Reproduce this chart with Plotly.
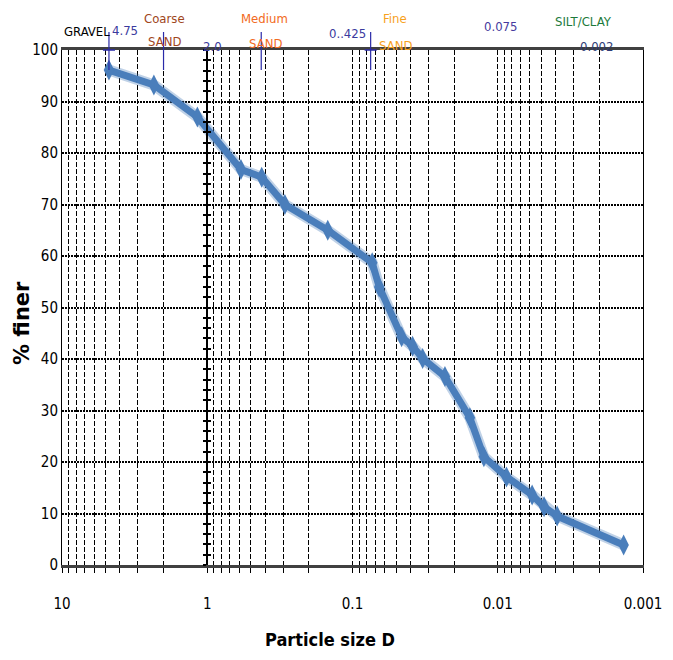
import plotly.graph_objects as go

# ---------------- data ----------------
SIZES = [4.75, 2.33, 1.17, 0.586, 0.422, 0.292, 0.148, 0.0732, 0.0655, 0.0459,
         0.0386, 0.0329, 0.0231, 0.01556, 0.01246, 0.0087, 0.0058, 0.0048, 0.0039, 0.00136]
FINER = [96.1, 93.2, 87.0, 76.8, 75.3, 70.0, 65.0, 58.7, 54.0, 44.3,
         42.5, 40.1, 36.6, 28.6, 21.0, 17.1, 13.6, 11.3, 9.5, 3.9]

DECADES = [10, 1, 0.1, 0.01, 0.001]
DECADE_LABELS = ["10", "1", "0.1", "0.01", "0.001"]
Y_TICKS = [0, 10, 20, 30, 40, 50, 60, 70, 80, 90, 100]

BOUNDARY_SIZES = [4.75, 2.0, 0.425, 0.075]
CROSSBAR_SIZES = [4.75, 0.075]

# ---------------- styling ----------------
OFF = 8                      # page body margin
W, H = 673 - 2 * OFF, 660 - 2 * OFF
ML, MT = 62 - OFF, 50 - OFF
PW, PH = 581, 515
MR, MB = W - ML - PW, H - MT - PH
NARROW = "DejaVu Sans Condensed, Liberation Sans Narrow, Arial Narrow, Liberation Sans, sans-serif"
BLUE = "#4a7ebb"
TICKBLUE = "#2a2aa8"


def px(xp):
    """page pixel x -> paper fraction"""
    return (xp - OFF - ML) / PW


def py(yp):
    """page pixel y -> paper fraction"""
    return (MT + PH - (yp - OFF)) / PH


# gridline positions: 1..9 times each decade
grid_vals = [10.0]
grid_text = ["10"]
for d, lab in zip(DECADES[1:], DECADE_LABELS[1:]):
    for m in range(9, 1, -1):
        grid_vals.append(m * d)
        grid_text.append("")
    grid_vals.append(d)
    grid_text.append(lab)

fig = go.Figure()

# soft glow under the curve
fig.add_trace(go.Scatter(
    x=SIZES, y=FINER, mode="lines",
    line=dict(color="rgba(74,126,187,0.35)", width=11),
    hoverinfo="skip", showlegend=False))
fig.add_trace(go.Scatter(
    x=SIZES, y=FINER, mode="lines+markers",
    line=dict(color=BLUE, width=7),
    marker=dict(symbol="diamond-tall", size=15, color=BLUE,
                line=dict(width=0)),
    showlegend=False))

# dummy traces for the axis drawn at D = 1
fig.add_trace(go.Scatter(x=[None], y=[None], yaxis="y2", showlegend=False, hoverinfo="skip"))
fig.add_trace(go.Scatter(x=[None], y=[None], yaxis="y3", showlegend=False, hoverinfo="skip"))

inner_axis = dict(
    overlaying="y", anchor="free", position=0.25, side="left",
    range=[0, 100], showline=True, linecolor="black", linewidth=2,
    dtick=2, ticklen=3, tickwidth=2, tickcolor="black",
    showticklabels=False, showgrid=False, zeroline=False, automargin=False,
)

fig.update_layout(
    width=W, height=H,
    margin=dict(l=ML, r=MR, t=MT, b=MB, autoexpand=False),
    paper_bgcolor="white", plot_bgcolor="white",
    font=dict(family=NARROW, color="black"),
    xaxis=dict(
        type="log", range=[1, -3], automargin=False,
        tickmode="array", tickvals=grid_vals, ticktext=grid_text,
        showgrid=True, gridcolor="black", griddash="5px,2px", gridwidth=1,
        ticks="outside", ticklen=5, tickcolor="black", tickwidth=1,
        showline=True, linecolor="#404040", linewidth=3, mirror=True,
        tickfont=dict(family=NARROW, size=15, color="black"),
        ticklabelstandoff=18,
        zeroline=False,
    ),
    yaxis=dict(
        range=[0, 100], tickmode="array", tickvals=Y_TICKS, automargin=False,
        showgrid=True, gridcolor="black", griddash="2px,1px", gridwidth=2,
        ticks="", showline=True, linecolor="black", linewidth=1, mirror=True,
        tickfont=dict(family=NARROW, size=15, color="black"),
        zeroline=False,
    ),
    yaxis2=dict(inner_axis, ticks="inside"),
    yaxis3=dict(inner_axis, ticks="outside"),
)

# boundary tick marks at the top
shapes = []
for v in BOUNDARY_SIZES:
    shapes.append(dict(type="line", xref="x", yref="paper", x0=v, x1=v,
                       y0=py(70), y1=py(32), line=dict(color=TICKBLUE, width=1.2),
                       layer="above"))
for v in CROSSBAR_SIZES:
    shapes.append(dict(type="line", xref="x", yref="paper", x0=v * 1.1, x1=v / 1.1,
                       y0=1, y1=1, line=dict(color=TICKBLUE, width=1.5),
                       layer="above"))
fig.update_layout(shapes=shapes)

# labels at the top
LABELS = [
    ("GRAVEL", 87, 32, "black"),
    ("4.75", 125, 30, "#3a3a9e"),
    ("Coarse", 164, 18, "#a0461c"),
    ("SAND", 164, 42, "#a0461c"),
    ("2.0", 212, 46, "#3a3a9e"),
    ("Medium", 264, 19, "#f26a21"),
    ("SAND", 265, 44, "#f26a21"),
    ("0..425", 347, 33, "#3a3a9e"),
    ("Fine", 395, 19, "#f7a11c"),
    ("SAND", 395, 45, "#f7a11c"),
    ("0.075", 500, 27, "#463a9e"),
    ("SILT/CLAY", 583, 22, "#1c7a3a"),
    ("0.002", 596, 46, "#2f3d78"),
]
ann = []
for t, x, y, c in LABELS:
    ann.append(dict(text=t, xref="paper", yref="paper", x=px(x), y=py(y),
                    xanchor="center", yanchor="middle", showarrow=False,
                    font=dict(family=NARROW, size=13, color=c)))
ann.append(dict(text="<b>Particle size D</b>", xref="paper", yref="paper",
                x=px(330), y=py(639), xanchor="center", yanchor="middle",
                showarrow=False, font=dict(family=NARROW, size=18, color="black")))
ann.append(dict(text="<b>% finer</b>", xref="paper", yref="paper",
                x=px(22), y=py(323), xanchor="center", yanchor="middle",
                textangle=-90, showarrow=False,
                font=dict(family="DejaVu Sans, Liberation Sans, sans-serif", size=21, color="black")))
fig.update_layout(annotations=ann)

fig.write_html("out.html")
